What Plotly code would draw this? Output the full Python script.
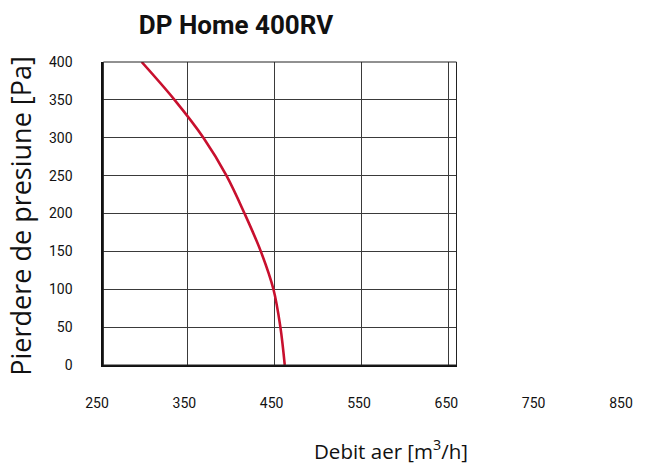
import plotly.graph_objects as go

# Data
pressure = [400, 350, 300, 250, 200, 150, 100, 50, 0]            # Pa
flow = [297.5, 335.3, 368.5, 395, 415.8, 434.5, 449, 457, 462]   # m3/h

x_grid = [350, 450, 550, 650]
x_labels = [250, 350, 450, 550, 650, 750, 850]
y_ticks = [0, 50, 100, 150, 200, 250, 300, 350, 400]

# the page body has an 8px default margin; work in figure coordinates
OFF = 8
W, H = 645 - OFF, 464 - OFF
L, R = 97 - OFF, 629 - OFF          # paper span (tick label row extent)
PL, PR = 103.5 - OFF, 462 - OFF     # main plot area
PT, PB = 61.7 - OFF, 365.3 - OFF

cond = "Roboto, Noto Sans, sans-serif"

fig = go.Figure()
fig.add_trace(go.Scatter(
    x=flow, y=pressure, mode="lines", line=dict(color="#C8102E", width=2.6, shape="spline"),
    hoverinfo="skip", showlegend=False, xaxis="x", yaxis="y"))
# invisible trace to carry the tick-label axis
fig.add_trace(go.Scatter(
    x=x_labels, y=[0] * len(x_labels), mode="markers", marker=dict(opacity=0, size=1),
    hoverinfo="skip", showlegend=False, xaxis="x2", yaxis="y2"))

span = R - L
tickf = dict(family=cond, size=14, color="#111")
fig.update_layout(
    width=W, height=H,
    margin=dict(l=L, r=W - R, t=PT, b=H - PB, pad=0),
    paper_bgcolor="white", plot_bgcolor="rgba(0,0,0,0)",
    title=dict(text="<b>DP Home 400RV</b>", x=(236 - OFF) / W, xref="container", xanchor="center",
               y=1 - (25 - OFF) / H, yref="container", yanchor="middle",
               font=dict(family=cond, size=26, color="#111")),
    xaxis=dict(domain=[(PL - L) / span, (PR - L) / span], range=[253.5, 659.5],
               tickvals=x_grid, showticklabels=False, ticks="",
               showgrid=True, gridcolor="#3a3a3a", gridwidth=1,
               showline=True, linecolor="#111", linewidth=2, zeroline=False,
               anchor="y", fixedrange=True),
    yaxis=dict(domain=[0, 1], range=[0, 400], tickvals=y_ticks,
               ticks="outside", ticklen=26, tickcolor="rgba(0,0,0,0)",
               tickfont=tickf,
               showgrid=True, gridcolor="#3a3a3a", gridwidth=1,
               showline=True, linecolor="#111", linewidth=2, zeroline=False,
               anchor="x", fixedrange=True),
    xaxis2=dict(domain=[0, 1], range=[250, 850], tickvals=x_labels,
                ticks="outside", ticklen=25, tickcolor="rgba(0,0,0,0)",
                tickfont=tickf,
                showgrid=False, showline=False, zeroline=False, anchor="y2", fixedrange=True),
    yaxis2=dict(domain=[0, 1], range=[0, 400], visible=False, anchor="x2", fixedrange=True),
    shapes=[dict(type="rect", xref="x domain", yref="y domain", x0=0, x1=1, y0=0, y1=1,
                 line=dict(color="#222", width=1), layer="above")],
    annotations=[
        dict(text="Pierdere de presiune [Pa]", textangle=-90, xref="paper", yref="paper",
             x=(11 - L) / span, y=0.49, xanchor="center", yanchor="middle", showarrow=False,
             font=dict(family="Open Sans, sans-serif", size=27, color="#111")),
        dict(text="Debit aer [m<sup>3</sup>/h]", xref="paper", yref="paper",
             x=(395 - OFF - L) / span, y=(PB - (450 - OFF)) / (PB - PT),
             xanchor="center", yanchor="middle",
             showarrow=False, font=dict(family="Open Sans, sans-serif", size=20.5, color="#111")),
    ],
)

fig.write_html("out.html")
